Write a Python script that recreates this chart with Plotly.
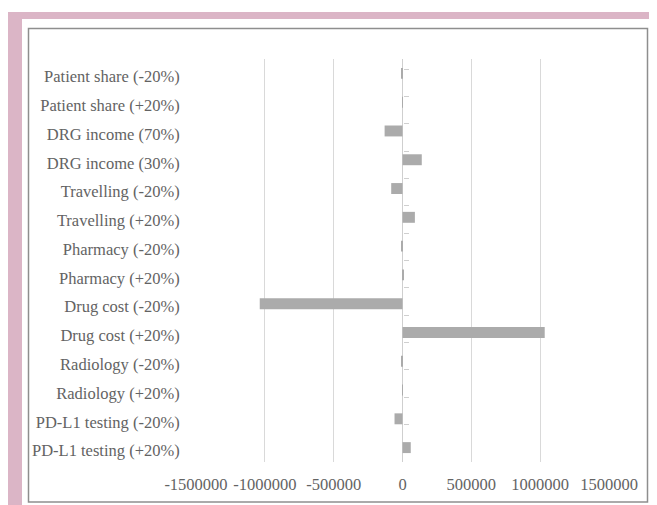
import plotly.graph_objects as go

categories = [
    "Patient share (-20%)", "Patient share (+20%)",
    "DRG income (70%)", "DRG income (30%)",
    "Travelling (-20%)", "Travelling (+20%)",
    "Pharmacy (-20%)", "Pharmacy (+20%)",
    "Drug cost (-20%)", "Drug cost (+20%)",
    "Radiology (-20%)", "Radiology (+20%)",
    "PD-L1 testing (-20%)", "PD-L1 testing (+20%)",
]
values = [
    -8000, 2000,
    -130000, 140000,
    -82000, 90000,
    -4000, 6000,
    -1037000, 1033000,
    -5000, 2000,
    -58000, 60000,
]
x_tick_vals = [-1500000, -1000000, -500000, 0, 500000, 1000000, 1500000]
x_tick_text = ["-1500000", "-1000000", "-500000", "0", "500000", "1000000", "1500000"]

OFF = 8  # page body margin
W, H = 657 - OFF, 505 - OFF
def px(x): return (x - OFF) / W
def py(y): return 1 - (y - OFF) / H

FONT = "Liberation Serif, Times New Roman, serif"
TXT = "#636363"
PINK = "#dbb5c6"

fig = go.Figure()
fig.add_trace(go.Bar(
    x=values, y=categories, orientation="h",
    marker=dict(color="#ababab", line=dict(width=0)),
    hoverinfo="x+y",
))
fig.add_trace(go.Scatter(
    x=[0] * len(categories), y=categories, yaxis="y2",
    mode="markers", marker=dict(opacity=0), hoverinfo="skip", showlegend=False,
))

xd = [px(196), px(609)]
yd = [py(462), py(59)]

fig.update_layout(
    template="none",
    width=W, height=H,
    margin=dict(l=0, r=0, t=0, b=0, pad=0),
    paper_bgcolor=PINK, plot_bgcolor="rgba(0,0,0,0)",
    showlegend=False,
    bargap=0.62,
    font=dict(family=FONT, size=16.5, color=TXT),
    xaxis=dict(
        domain=xd, range=[-1500000, 1500000], automargin=False,
        tickvals=x_tick_vals, ticktext=x_tick_text,
        showgrid=True, gridcolor="#d9d9d9", gridwidth=1,
        zeroline=True, zerolinecolor="#cfcfcf", zerolinewidth=1,
        showline=False,
        ticks="outside", ticklen=7, tickcolor="rgba(0,0,0,0)",
        tickfont=dict(family=FONT, size=16.5, color=TXT),
        fixedrange=True,
    ),
    yaxis=dict(
        domain=yd, type="category", autorange="reversed", automargin=False,
        showgrid=False, zeroline=False, showline=False,
        ticks="outside", ticklen=12, tickcolor="rgba(0,0,0,0)",
        ticklabelshift=-3,
        tickfont=dict(family=FONT, size=16.5, color=TXT),
        fixedrange=True,
    ),
    yaxis2=dict(
        domain=yd, type="category", autorange="reversed", automargin=False,
        overlaying="y", anchor="free", position=(xd[0] + xd[1]) / 2,
        side="left", showgrid=False, zeroline=False,
        showline=False, showticklabels=False,
        ticks="inside", ticklen=5, tickcolor="#cfcfcf", tickson="boundaries",
        fixedrange=True,
    ),
    shapes=[
        dict(type="rect", xref="paper", yref="paper", x0=0, x1=1, y0=py(12), y1=1.01,
             fillcolor="white", line=dict(width=0), layer="below"),
        dict(type="rect", xref="paper", yref="paper", x0=px(22), x1=px(651), y0=-0.02, y1=py(19),
             fillcolor="white", line=dict(width=0), layer="below"),
        dict(type="rect", xref="paper", yref="paper", x0=px(28.5), x1=px(647.5), y0=py(502), y1=py(28.5),
             fillcolor="rgba(0,0,0,0)", line=dict(color="#8e8e8e", width=1.5), layer="below"),
    ],
)

fig.write_html("out.html")
